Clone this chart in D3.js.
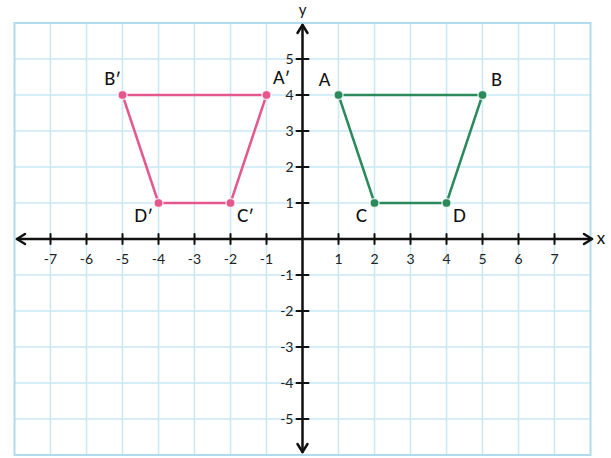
<!DOCTYPE html>
<html><head><meta charset="utf-8">
<script src="https://cdn.jsdelivr.net/npm/d3@7"></script>
<style>body{margin:0;background:#fff}svg{display:block}text{font-family:Lato,"Noto Sans",sans-serif}</style>
</head><body><svg id="c" width="611" height="458"></svg>
<script>
const xTicks = [-7,-6,-5,-4,-3,-2,-1,1,2,3,4,5,6,7];
const yTicks = [-5,-4,-3,-2,-1,1,2,3,4,5];
const originalLabels = ["A","B","D","C"];
const originalX = [1,5,4,2];
const originalY = [4,4,1,1];
const imageLabels = ["A′","B′","D′","C′"];
const imageX = [-1,-5,-4,-2];
const imageY = [4,4,1,1];

const svg = d3.select("#c");
const x = d3.scaleLinear().domain([-8,8]).range([14.5,590.5]);
const y = d3.scaleLinear().domain([-6,6]).range([455,23]);

// grid
const g = svg.append("g");
g.selectAll("line.v").data(d3.range(-7,8)).enter().append("line")
  .attr("x1",d=>x(d)).attr("x2",d=>x(d)).attr("y1",y(6)).attr("y2",y(-6))
  .attr("stroke","#c9e8f4").attr("stroke-width",1.5);
g.selectAll("line.h").data(d3.range(-5,6)).enter().append("line")
  .attr("y1",d=>y(d)).attr("y2",d=>y(d)).attr("x1",x(-8)).attr("x2",x(8))
  .attr("stroke","#c9e8f4").attr("stroke-width",1.5);
g.append("rect").attr("x",x(-8)).attr("y",y(6)).attr("width",x(8)-x(-8)).attr("height",y(-6)-y(6))
  .attr("fill","none").attr("stroke","#b0dcee").attr("stroke-width",2);

// axes
const ax = svg.append("g").attr("stroke","#111").attr("stroke-width",2.5).attr("fill","none").attr("stroke-linecap","round").attr("stroke-linejoin","round");
ax.append("line").attr("x1",17).attr("x2",592).attr("y1",y(0)).attr("y2",y(0));
ax.append("line").attr("y1",25).attr("y2",452).attr("x1",x(0)).attr("x2",x(0));
ax.append("path").attr("d",`M${17+8},${y(0)-5}L17,${y(0)}L${17+8},${y(0)+5}`);
ax.append("path").attr("d",`M${592-8},${y(0)-5}L592,${y(0)}L${592-8},${y(0)+5}`);
ax.append("path").attr("d",`M${x(0)-5},${25+8}L${x(0)},25L${x(0)+5},${25+8}`);
ax.append("path").attr("d",`M${x(0)-5},${452-8}L${x(0)},452L${x(0)+5},${452-8}`);
ax.selectAll("line.xt").data(xTicks).enter().append("line")
  .attr("x1",d=>x(d)).attr("x2",d=>x(d)).attr("y1",y(0)-5).attr("y2",y(0)+5).attr("stroke-width",2);
ax.selectAll("line.yt").data(yTicks).enter().append("line")
  .attr("y1",d=>y(d)).attr("y2",d=>y(d)).attr("x1",x(0)-6).attr("x2",x(0)+6).attr("stroke-width",2);

svg.selectAll("text.xl").data(xTicks).enter().append("text")
  .attr("x",d=>x(d)).attr("y",y(0)+25).attr("text-anchor","middle")
  .attr("font-size",14).attr("fill","#222").text(d=>d);
svg.selectAll("text.yl").data(yTicks).enter().append("text")
  .attr("x",x(0)-9).attr("y",d=>y(d)+5).attr("text-anchor","end")
  .attr("font-size",14).attr("fill","#222").text(d=>d);
svg.append("text").attr("x",601).attr("y",y(0)+5).attr("text-anchor","middle").attr("font-size",17).attr("fill","#111").text("x");
svg.append("text").attr("x",x(0)).attr("y",15).attr("text-anchor","middle").attr("font-size",15).attr("fill","#111").text("y");

function shape(xs, ys, labels, color, offs){
  const pts = xs.map((v,i)=>[x(v),y(ys[i])]);
  svg.append("path").attr("d",d3.line()(pts)+"Z").attr("fill","none").attr("stroke",color).attr("stroke-width",2.5);
  svg.selectAll(null).data(pts).enter().append("circle")
    .attr("cx",d=>d[0]).attr("cy",d=>d[1]).attr("r",4.5).attr("fill",color)
    .attr("stroke","#fff").attr("stroke-opacity",0.7).attr("stroke-width",1.5);
  svg.selectAll(null).data(pts).enter().append("text")
    .attr("x",(d,i)=>d[0]+offs[i][0]).attr("y",(d,i)=>d[1]+offs[i][1])
    .attr("text-anchor","middle").attr("font-size",17).attr("font-weight",500).attr("fill","#111").text((d,i)=>labels[i]);
}
// A, B, D, C
shape(originalX, originalY, originalLabels, "#2a8a5c", [[-14,-9],[14,-9],[13,19],[-13,19]]);
shape(imageX, imageY, imageLabels, "#e6578d", [[15,-11],[-10,-10],[-15,19],[15,19]]);
</script></body></html>
